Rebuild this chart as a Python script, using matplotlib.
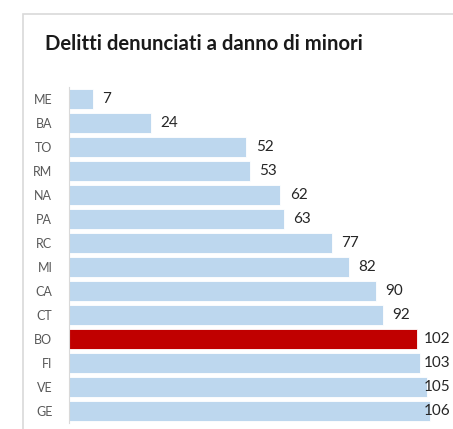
import matplotlib.pyplot as plt
from matplotlib.patches import Rectangle

plt.rcParams['font.family'] = ['Lato', 'DejaVu Sans']

cities = ['ME', 'BA', 'TO', 'RM', 'NA', 'PA', 'RC', 'MI', 'CA', 'CT', 'BO', 'FI', 'VE', 'GE']
values = [7, 24, 52, 53, 62, 63, 77, 82, 90, 92, 102, 103, 105, 106]
highlight = 'BO'

colors = ['#C00000' if c == highlight else '#BDD7EE' for c in cities]

fig = plt.figure(figsize=(4.53, 4.29), dpi=100)
# chart frame (runs off the right and bottom edge like the screenshot)
fig.patches.append(Rectangle((23 / 453, -0.1), 1.2, (429 - 14) / 429 + 0.1,
                             transform=fig.transFigure, fill=False,
                             edgecolor='#d9d9d9', linewidth=1.2))

ax = fig.add_axes([69 / 453, 6 / 429, 384 / 453, 336 / 429])
ax.barh(range(len(cities)), values, height=0.8, color=colors,
        edgecolor='white', linewidth=0.6)
ax.set_ylim(len(cities) - 0.5, -0.5)
ax.set_xlim(0, 112.6)

# value labels, kept inside the plot area like Excel does
xmax = 101.2
for i, v in enumerate(values):
    ax.annotate(str(v), (min(v, xmax), i), xytext=(7, 0), textcoords='offset points',
                va='center', ha='left', fontsize=11, color='#262626')

ax.set_yticks(range(len(cities)))
ax.set_yticklabels(cities, fontsize=9, color='#595959')
ax.tick_params(axis='y', length=0, pad=12)
ax.set_xticks([])
for s in ['top', 'right', 'bottom']:
    ax.spines[s].set_visible(False)
ax.spines['left'].set_color('#d9d9d9')

fig.text(45 / 453, 1 - 44 / 429, 'Delitti denunciati a danno di minori',
         fontsize=14.6, fontweight='bold', color='#1a1a1a', va='center', ha='left')

fig.savefig('out.png', dpi=100)
